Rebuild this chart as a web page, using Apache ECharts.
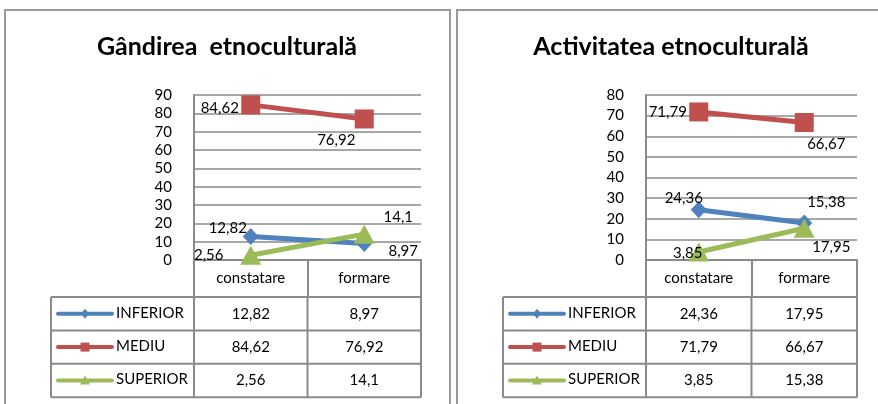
<!DOCTYPE html>
<html><head><meta charset="utf-8">
<script src="https://cdn.jsdelivr.net/npm/echarts@6/dist/echarts.min.js"></script>
<style>html,body{margin:0;padding:0;background:#fff}#c{width:878px;height:404px}</style>
</head><body><div id="c"></div>
<script>
// ---- data ----
const categories = ['constatare', 'formare'];
const seriesNames = ['INFERIOR', 'MEDIU', 'SUPERIOR'];
const titles = ['Gândirea  etnoculturală', 'Activitatea etnoculturală'];
const gandireaInferior = [12.82, 8.97];
const gandireaMediu = [84.62, 76.92];
const gandireaSuperior = [2.56, 14.1];
const activitateaInferior = [24.36, 17.95];
const activitateaMediu = [71.79, 66.67];
const activitateaSuperior = [3.85, 15.38];
const gandireaAxisMax = 90;
const activitateaAxisMax = 80;
const axisStep = 10;

// ---- styling / layout ----
const FONT = 'Lato';
const colors = ['#4F81BD', '#C0504D', '#9BBB59'];
const symbols = ['diamond', 'rect', 'triangle'];
const symbolSizes = [[16, 17], [19, 19], [21, 19]];
const gridGray = '#8a8a8a';
const panels = [
  { title: titles[0], data: [gandireaInferior, gandireaMediu, gandireaSuperior], max: gandireaAxisMax,
    left: 194, width: 227, tableLeft: 51, titleX: 227, bx: 5, bw: 445,
    offsets: [[[-23, -8], [39, 8]], [[-31, 3], [-28, 21]], [[-42, 0], [34, -17]]] },
  { title: titles[1], data: [activitateaInferior, activitateaMediu, activitateaSuperior], max: activitateaAxisMax,
    left: 646, width: 211, tableLeft: 503, titleX: 671, bx: 457, bw: 440,
    offsets: [[[-15, -12], [27, 24]], [[-31, 0], [22, 22]], [[-11, 1], [22, -26]]] }
];
const GRID_TOP = 95, GRID_H = 165, HEADER_H = 37, ROW_H = 33.4;
const fmt = v => String(v).replace('.', ',');

const chart = echarts.init(document.getElementById('c'), null, { renderer: 'canvas' });

const grid = [], xAxis = [], yAxis = [], series = [];
panels.forEach((p, i) => {
  grid.push({ left: p.left, top: GRID_TOP, width: p.width, height: GRID_H, containLabel: false, outerBoundsMode: 'none' });
  xAxis.push({
    type: 'category', gridIndex: i, data: categories, boundaryGap: true,
    axisLine: { show: true, lineStyle: { color: gridGray, width: 2 } },
    axisTick: { show: true, inside: false, length: HEADER_H, lineStyle: { color: gridGray, width: 2 } },
    axisLabel: { margin: 11, fontFamily: FONT, fontSize: 15, color: '#000' },
    splitLine: { show: false }
  });
  yAxis.push({
    type: 'value', gridIndex: i, min: 0, max: p.max, interval: axisStep,
    axisLine: { show: true, lineStyle: { color: gridGray, width: 2 } },
    axisTick: { show: false },
    axisLabel: { margin: 22, fontFamily: FONT, fontSize: 15, color: '#000' },
    splitLine: { show: true, lineStyle: { color: gridGray, width: 1.5 } }
  });
  p.data.forEach((arr, s) => {
    series.push({
      type: 'line', name: seriesNames[s], xAxisIndex: i, yAxisIndex: i,
      symbol: symbols[s], symbolSize: symbolSizes[s], showAllSymbol: true,
      lineStyle: { color: colors[s], width: 5 },
      itemStyle: { color: colors[s] },
      z: 3 + (s === 1 ? 0 : s === 0 ? 1 : 2),
      data: arr.map((v, c) => ({
        value: v,
        label: {
          show: true, position: 'inside', offset: p.offsets[s][c],
          formatter: () => fmt(v), color: '#000', fontFamily: FONT, fontSize: 15,
          textBorderWidth: 0, align: 'center', verticalAlign: 'middle'
        }
      })),
      emphasis: { disabled: true },
      animation: false
    });
  });
});

chart.setOption({ animation: false, grid, xAxis, yAxis, series });

// ---- titles, borders and data tables built from axis geometry ----
const graphics = [];
panels.forEach((p, i) => {
  graphics.push({ type: 'rect', shape: { x: p.bx, y: 10, width: p.bw, height: 440 },
    style: { fill: 'none', stroke: '#9a9a9a', lineWidth: 2 }, silent: true });
  graphics.push({ type: 'text', x: p.titleX, y: 47,
    style: { text: p.title, fill: '#000', font: 'bold 25px ' + FONT, textAlign: 'center', textVerticalAlign: 'middle', align: 'center', verticalAlign: 'middle' } });

  const centers = categories.map(c => chart.convertToPixel({ xAxisIndex: i }, c));
  const band = centers[1] - centers[0];
  const bounds = [centers[0] - band / 2, centers[0] + band / 2, centers[1] + band / 2];
  const y0 = chart.convertToPixel({ yAxisIndex: i }, 0);
  const tTop = y0 + HEADER_H;
  const tBottom = tTop + ROW_H * seriesNames.length;
  const lineSt = { stroke: gridGray, lineWidth: 2 };
  for (let r = 0; r <= seriesNames.length; r++) {
    const y = tTop + ROW_H * r;
    graphics.push({ type: 'line', shape: { x1: p.tableLeft, y1: y, x2: bounds[2], y2: y }, style: lineSt });
  }
  [p.tableLeft].concat(bounds).forEach(x => {
    graphics.push({ type: 'line', shape: { x1: x, y1: tTop, x2: x, y2: tBottom }, style: lineSt });
  });
  seriesNames.forEach((name, s) => {
    const cy = tTop + ROW_H * (s + 0.5);
    const lx1 = p.tableLeft + 7, lx2 = p.tableLeft + 61, mx = p.tableLeft + 34;
    graphics.push({ type: 'line', shape: { x1: lx1, y1: cy, x2: lx2, y2: cy },
      style: { stroke: colors[s], lineWidth: 4, lineCap: 'round' } });
    let mk;
    if (s === 0) mk = { type: 'polygon', shape: { points: [[mx, cy - 5], [mx + 4, cy], [mx, cy + 5], [mx - 4, cy]] } };
    else if (s === 1) mk = { type: 'rect', shape: { x: mx - 4.5, y: cy - 4.5, width: 9, height: 9 } };
    else mk = { type: 'polygon', shape: { points: [[mx, cy - 5], [mx + 5, cy + 4], [mx - 5, cy + 4]] } };
    mk.style = { fill: colors[s] };
    graphics.push(mk);
    graphics.push({ type: 'text', x: p.tableLeft + 65, y: cy - 1,
      style: { text: name, fill: '#000', font: '15px ' + FONT, textAlign: 'left', textVerticalAlign: 'middle', align: 'left', verticalAlign: 'middle' } });
    p.data[s].forEach((v, c) => {
      graphics.push({ type: 'text', x: centers[c], y: cy,
        style: { text: fmt(v), fill: '#000', font: '15px ' + FONT, textAlign: 'center', textVerticalAlign: 'middle', align: 'center', verticalAlign: 'middle' } });
    });
  });
});
chart.setOption({ graphic: graphics });
</script>
</body></html>
